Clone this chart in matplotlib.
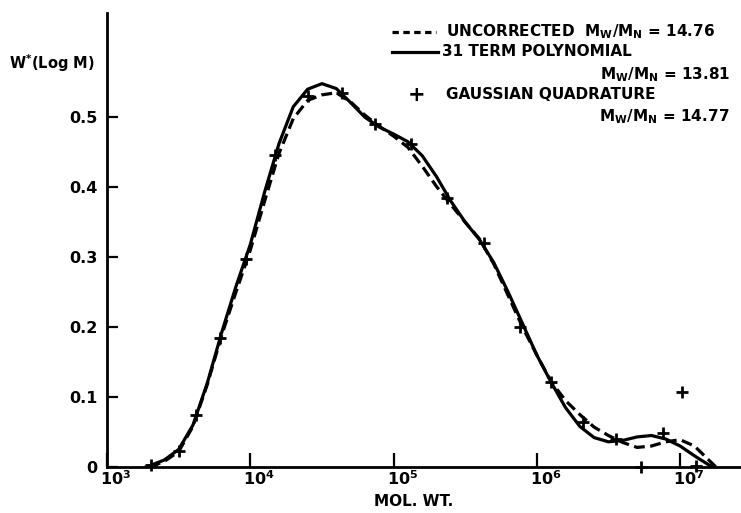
import matplotlib
matplotlib.use('Agg')
import matplotlib.pyplot as plt
import numpy as np
from matplotlib.lines import Line2D
from matplotlib.transforms import ScaledTranslation

plt.rcParams['font.family'] = ['DejaVu Sans']
plt.rcParams['font.weight'] = 'bold'
plt.rcParams['mathtext.fontset'] = 'custom'
plt.rcParams['mathtext.rm'] = 'DejaVu Sans:bold'
plt.rcParams['mathtext.it'] = 'DejaVu Sans:bold'
plt.rcParams['mathtext.bf'] = 'DejaVu Sans:bold'

# ---- data (log10 of molecular weight, W*(log M)) ----
log_m_uncorr = [3.30, 3.40, 3.50, 3.60, 3.70, 3.80, 3.90, 4.00, 4.10, 4.20, 4.30, 4.40,
                4.50, 4.60, 4.70, 4.80, 4.90, 5.00, 5.10, 5.20, 5.30, 5.40, 5.50, 5.60,
                5.70, 5.80, 5.90, 6.00, 6.10, 6.20, 6.30, 6.40, 6.50, 6.60, 6.70, 6.80,
                6.90, 7.00, 7.10, 7.20, 7.25]
w_uncorr = [0.000, 0.008, 0.022, 0.058, 0.118, 0.188, 0.250, 0.310, 0.380, 0.448, 0.498, 0.524,
            0.532, 0.535, 0.522, 0.503, 0.487, 0.473, 0.457, 0.430, 0.401, 0.375, 0.350, 0.326,
            0.290, 0.245, 0.200, 0.160, 0.122, 0.095, 0.075, 0.057, 0.045, 0.035, 0.028, 0.030,
            0.036, 0.039, 0.030, 0.010, 0.000]

log_m_poly = [3.27, 3.30, 3.40, 3.50, 3.60, 3.70, 3.80, 3.90, 4.00, 4.10, 4.20, 4.30, 4.40,
              4.50, 4.60, 4.70, 4.80, 4.90, 5.00, 5.10, 5.20, 5.30, 5.40, 5.50, 5.60,
              5.70, 5.80, 5.90, 6.00, 6.10, 6.20, 6.30, 6.40, 6.50, 6.60, 6.70, 6.80,
              6.90, 7.00, 7.10, 7.20, 7.23]
w_poly = [0.000, 0.002, 0.010, 0.025, 0.060, 0.120, 0.192, 0.258, 0.318, 0.393, 0.462, 0.515, 0.540,
          0.548, 0.541, 0.521, 0.500, 0.486, 0.476, 0.465, 0.445, 0.415, 0.380, 0.350, 0.325,
          0.292, 0.250, 0.205, 0.160, 0.121, 0.085, 0.058, 0.042, 0.036, 0.038, 0.043, 0.045,
          0.040, 0.030, 0.016, 0.003, 0.000]

log_m_gauss = [3.31, 3.50, 3.62, 3.79, 3.97, 4.17, 4.40, 4.64, 4.87, 5.12, 5.37, 5.63,
               5.88, 6.10, 6.32, 6.55, 6.73, 6.88, 7.01, 7.11]
w_gauss = [0.003, 0.023, 0.074, 0.184, 0.298, 0.446, 0.531, 0.534, 0.490, 0.462, 0.384, 0.320,
           0.200, 0.122, 0.065, 0.040, 0.000, 0.049, 0.107, 0.002]

x_tick_exponents = [3, 4, 5, 6, 7]
y_ticks = [0.0, 0.1, 0.2, 0.3, 0.4, 0.5]
y_tick_labels = ['0', '0.1', '0.2', '0.3', '0.4', '0.5']

legend_labels = ['UNCORRECTED  M$_{W}$/M$_{N}$ = 14.76',
                 '31 TERM POLYNOMIAL', 'M$_{W}$/M$_{N}$ = 13.81',
                 'GAUSSIAN QUADRATURE', 'M$_{W}$/M$_{N}$ = 14.77']

W, H = 741, 513
fig = plt.figure(figsize=(W / 100, H / 100), dpi=100)
ax = fig.add_axes([107 / W, 46 / H, (W - 107) / W, (467 - 13) / H])
ax.set_xscale('log')
ax.set_xlim(1e3, 10 ** 7.425)
ax.set_ylim(0, 0.649)

dash = (0, (3.4, 1.7))
ax.plot(10 ** np.array(log_m_uncorr), w_uncorr, color='black', lw=2.3, ls=dash)
ax.plot(10 ** np.array(log_m_poly), w_poly, color='black', lw=2.3, ls='-')
ax.plot(10 ** np.array(log_m_gauss), w_gauss, ls='none', marker='+', ms=9, mew=2,
        color='black', clip_on=False)

for s in ['top', 'right']:
    ax.spines[s].set_visible(False)
for s in ['left', 'bottom']:
    ax.spines[s].set_linewidth(2)

ax.set_xticks([10.0 ** e for e in x_tick_exponents])
ax.set_xticklabels(['10$^{%d}$' % e for e in x_tick_exponents])
ax.minorticks_off()
ax.set_yticks(y_ticks)
ax.set_yticklabels(y_tick_labels)
ax.tick_params(axis='x', direction='in', length=10, width=1.6, pad=2, labelsize=11.5)
ax.tick_params(axis='y', direction='in', length=8, width=1.6, pad=7, labelsize=11.5)
offset = ScaledTranslation(9 / 100, 0, fig.dpi_scale_trans)
for lbl in ax.get_xticklabels():
    lbl.set_transform(lbl.get_transform() + offset)

fig.text(52 / W, 1 - 63 / H, 'W$^{*}$(Log M)', ha='center', va='center', fontsize=10.5)
fig.text(414 / W, 1 - 501 / H, 'MOL. WT.', ha='center', va='center', fontsize=11)

# legend
fs = 11
fig.add_artist(Line2D([392 / W, 436 / W], [1 - 32 / H, 1 - 32 / H], color='black', lw=2.3,
                      ls=(0, (2.0, 1.4)), transform=fig.transFigure))
fig.add_artist(Line2D([392 / W, 438 / W], [1 - 52 / H, 1 - 52 / H], color='black', lw=2.3,
                      transform=fig.transFigure))
fig.text(417 / W, 1 - 95 / H, '+', ha='center', va='center', fontsize=15)
fig.text(446 / W, 1 - 32 / H, legend_labels[0], ha='left', va='center', fontsize=fs)
fig.text(442 / W, 1 - 52 / H, legend_labels[1], ha='left', va='center', fontsize=fs)
fig.text(730 / W, 1 - 75 / H, legend_labels[2], ha='right', va='center', fontsize=fs)
fig.text(446 / W, 1 - 95 / H, legend_labels[3], ha='left', va='center', fontsize=fs)
fig.text(730 / W, 1 - 117 / H, legend_labels[4], ha='right', va='center', fontsize=fs)

fig.savefig('out.png', dpi=100)
